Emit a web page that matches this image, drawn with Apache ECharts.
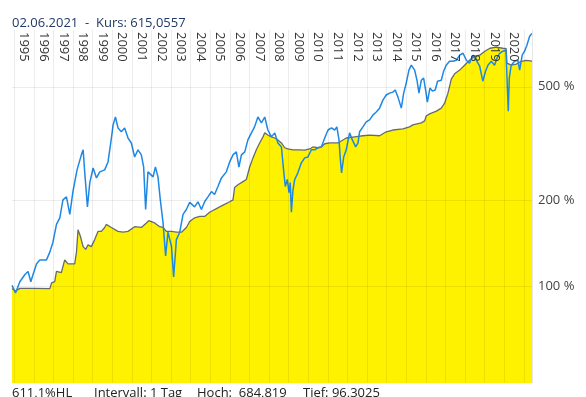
<!DOCTYPE html>
<html>
<head>
<meta charset="UTF-8">
<title>Kurs</title>
<script src="https://cdn.jsdelivr.net/npm/echarts@6/dist/echarts.min.js"></script>
<style>html,body{margin:0;padding:0;background:#fff;}</style>
</head>
<body>
<div id="container" style="width:586px;height:397px;"></div>
<script type="text/javascript">
// main series (yellow area, grey line): year (decimal), value in %
var grayYears = [1994.88,1995.05,1995.28,1995.95,1996.81,1996.90,1997.06,1997.15,1997.40,1997.57,1997.74,1998.08,1998.17,1998.25,1998.37,1998.51,1998.64,1998.76,1998.93,1999.10,1999.27,1999.44,1999.61,1999.69,1999.95,2000.29,2000.55,2000.80,2001.14,2001.48,2001.74,2001.86,2002.16,2002.42,2002.59,2002.76,2003.02,2003.27,2003.53,2003.78,2003.95,2004.20,2004.46,2004.71,2004.97,2005.22,2005.48,2005.73,2005.99,2006.16,2006.24,2006.41,2006.67,2006.84,2007.01,2007.18,2007.35,2007.52,2007.69,2007.78,2007.94,2008.12,2008.29,2008.45,2008.63,2008.80,2008.96,2009.22,2009.56,2009.82,2010.07,2010.24,2010.49,2010.67,2010.84,2011.09,2011.52,2011.94,2012.37,2012.79,2013.13,2013.64,2013.98,2014.32,2014.83,2015.17,2015.34,2015.77,2015.94,2016.02,2016.19,2016.54,2016.79,2016.96,2017.13,2017.30,2017.47,2017.73,2017.98,2018.23,2018.49,2018.75,2019.01,2019.27,2019.60,2019.93,2020.10,2020.14,2020.36,2020.62,2020.87,2021.13,2021.42];
var grayValues = [98.5,96.5,98.6,98.6,98.4,103,104,113,112,124,120,120,132,158,150,138,135,140,138,146,156,156,161,165,161,156,155,156,162,161,167,170,167,162,161,156,156,155,155,161,169,174,176,176,182,186,190,194,198,201,222,227,233,237,262,282,301,318,334,345,339,334,331,326,318,306,303,301,301,300,303,308,306,308,316,318,318,331,334,337,339,337,348,353,356,362,368,374,380,395,402,411,421,438,475,532,555,572,595,619,640,645,666,682,688,682,680,605,595,600,614,619,615];

// comparison series (blue line)
var blueYears = [1994.88,1995.06,1995.28,1995.53,1995.70,1995.84,1995.95,1996.13,1996.30,1996.64,1996.81,1996.97,1997.15,1997.32,1997.48,1997.66,1997.83,1997.99,1998.20,1998.42,1998.51,1998.61,1998.73,1998.85,1999.02,1999.19,1999.36,1999.61,1999.78,1999.92,2000.04,2000.16,2000.29,2000.46,2000.63,2000.80,2000.97,2001.14,2001.31,2001.48,2001.60,2001.70,2001.82,2001.91,2002.08,2002.20,2002.33,2002.45,2002.59,2002.72,2002.84,2003.02,2003.13,2003.27,2003.44,2003.61,2003.78,2003.95,2004.20,2004.37,2004.55,2004.71,2004.88,2005.06,2005.22,2005.39,2005.57,2005.82,2005.99,2006.16,2006.33,2006.46,2006.59,2006.76,2006.92,2007.10,2007.26,2007.43,2007.61,2007.78,2007.94,2008.12,2008.29,2008.45,2008.63,2008.74,2008.83,2008.93,2009.02,2009.08,2009.14,2009.22,2009.31,2009.47,2009.65,2009.82,2009.98,2010.16,2010.33,2010.49,2010.67,2010.84,2011.01,2011.18,2011.35,2011.46,2011.57,2011.64,2011.70,2011.81,2011.94,2012.11,2012.25,2012.42,2012.54,2012.62,2012.79,2012.96,2013.13,2013.30,2013.47,2013.64,2013.81,2013.98,2014.15,2014.32,2014.44,2014.58,2014.75,2014.87,2015.00,2015.14,2015.26,2015.43,2015.55,2015.65,2015.77,2015.89,2015.99,2016.08,2016.21,2016.34,2016.48,2016.60,2016.79,2016.91,2017.04,2017.21,2017.38,2017.56,2017.73,2017.90,2018.07,2018.23,2018.40,2018.58,2018.75,2018.91,2019.05,2019.17,2019.34,2019.51,2019.63,2019.77,2019.93,2020.09,2020.21,2020.26,2020.36,2020.53,2020.70,2020.79,2020.92,2021.04,2021.16,2021.30,2021.42];
var blueValues = [101,95,104,110,113,104,110,120,124,124,132,143,165,174,201,206,179,215,256,289,301,242,190,231,260,240,252,256,273,318,368,392,359,348,359,331,318,284,301,289,262,186,252,256,242,262,242,201,167,128,155,138,108,146,155,179,186,197,190,198,186,198,206,215,210,224,240,252,273,289,296,262,289,296,326,345,362,392,374,392,353,334,345,318,308,256,224,237,213,231,182,218,237,250,271,282,284,301,301,306,308,331,353,359,353,362,326,278,250,284,301,345,326,308,318,348,362,377,383,398,408,421,449,468,475,479,487,460,421,475,515,572,595,572,527,475,527,536,487,442,495,483,487,523,527,567,595,614,614,619,645,655,619,605,645,619,590,523,567,595,614,595,629,655,666,671,411,536,595,614,619,572,645,666,699,751,769];

var yearTicks = [1995,1996,1997,1998,1999,2000,2001,2002,2003,2004,2005,2006,2007,2008,2009,2010,2011,2012,2013,2014,2015,2016,2017,2018,2019,2020,2021];
var yearLabels = [1995.5,1996.5,1997.5,1998.5,1999.5,2000.5,2001.5,2002.5,2003.5,2004.5,2005.5,2006.5,2007.5,2008.5,2009.5,2010.5,2011.5,2012.5,2013.5,2014.5,2015.5,2016.5,2017.5,2018.5,2019.5,2020.5];
var yTicks = [100, 200, 500];

var fontName = 'Open Sans';
var gridColor = 'rgba(0,0,0,0.075)';

function pairs(xs, ys) {
	var out = [];
	for (var i = 0; i < xs.length; i++) out.push([xs[i], ys[i]]);
	return out;
}

var dom = document.getElementById("container");
var myChart = echarts.init(dom);

var option = {
	animation: false,
	grid: { left: 12, right: 54, top: 30, bottom: 14 },
	graphic: [
		{ type: 'text', left: 12, top: 17, style: { text: '02.06.2021  -  Kurs: 615,0557', fill: '#1f3a68', font: '13px "Open Sans"' } },
		{ type: 'text', left: 12, top: 387, style: { text: '611,1%HL', fill: '#222', font: '13px "Open Sans"' } },
		{ type: 'text', left: 94, top: 387, style: { text: 'Intervall: 1 Tag', fill: '#222', font: '13px "Open Sans"' } },
		{ type: 'text', left: 197, top: 387, style: { text: 'Hoch:  684,819', fill: '#222', font: '13px "Open Sans"' } },
		{ type: 'text', left: 303, top: 387, style: { text: 'Tief: 96,3025', fill: '#222', font: '13px "Open Sans"' } }
	],
	xAxis: {
		type: 'value',
		position: 'top',
		min: 1994.88,
		max: 2021.42,
		z: 5,
		axisLine: { show: false },
		axisTick: { show: false, customValues: yearTicks },
		splitLine: { show: true, lineStyle: { color: gridColor, width: 1 } },
		axisLabel: {
			customValues: yearLabels,
			inside: true,
			rotate: 90,
			margin: 2,
			fontSize: 13,
			fontFamily: fontName,
			color: '#333',
			formatter: function (v) { return String(Math.floor(v)); }
		}
	},
	yAxis: {
		type: 'log',
		position: 'right',
		min: 46,
		max: 790,
		z: 5,
		axisLine: { show: true, lineStyle: { color: '#e6e6e6' } },
		axisTick: { show: false, customValues: yTicks },
		splitLine: { show: true, lineStyle: { color: gridColor, width: 1 } },
		axisLabel: {
			customValues: yTicks,
			margin: 6,
			fontSize: 13,
			fontFamily: fontName,
			color: '#444',
			formatter: function (v) { return v + ' %'; }
		}
	},
	series: [
		{
			name: 'Kurs',
			type: 'line',
			data: pairs(grayYears, grayValues),
			symbol: 'none',
			lineStyle: { color: '#666b70', width: 1.3 },
			areaStyle: { color: '#fff200', opacity: 1, origin: 'start' },
			z: 2
		},
		{
			name: 'Vergleich',
			type: 'line',
			data: pairs(blueYears, blueValues),
			symbol: 'none',
			lineStyle: { color: '#1e88e5', width: 1.5 },
			z: 3
		}
	]
};

if (option && typeof option === "object") {
	myChart.setOption(option, true);
}
</script>
</body>
</html>
